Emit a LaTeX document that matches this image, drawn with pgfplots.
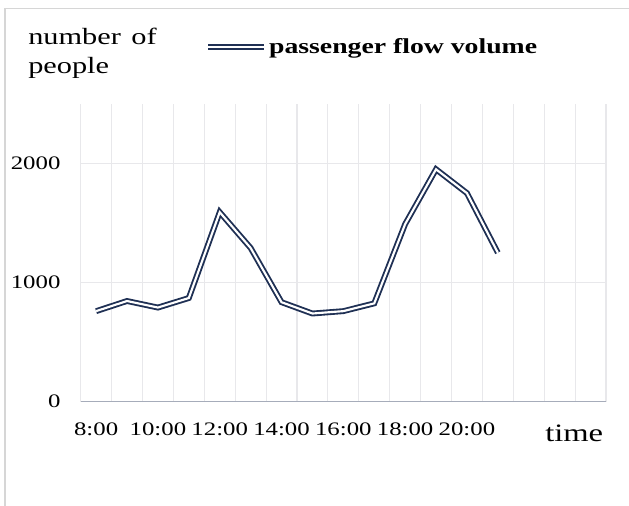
\documentclass[border=0pt]{standalone}
\usepackage{fontspec}
\setmainfont{Liberation Serif}[FakeStretch=1.3]
\usepackage{pgfplots}
\pgfplotsset{compat=1.18}

\definecolor{flow}{RGB}{31,48,84}
\definecolor{gridgray}{RGB}{232,232,235}
\definecolor{axisgray}{RGB}{166,172,186}
\definecolor{bordergray}{RGB}{214,214,214}

\begin{document}
\begin{tikzpicture}
    \useasboundingbox (0,0) rectangle (471.75pt,379.5pt);
    % frame of the chart area (only left and top edges show)
    \draw[bordergray, line width=0.9pt] (3.75pt,0pt) -- (3.75pt,373.3pt) -- (471.75pt,373.3pt);

    \begin{axis}[
        at={(60.5pt,78.2pt)}, anchor=south west,
        scale only axis,
        width=394pt, height=223.5pt,
        xmin=0.5, xmax=17.5,
        ymin=0, ymax=2500,
        axis x line*=bottom, axis y line*=left,
        y axis line style={draw=none},
        x axis line style={-, draw=axisgray, line width=0.9pt},
        xtick={1,3,5,7,9,11,13},
        xticklabels={8:00,10:00,12:00,14:00,16:00,18:00,20:00},
        minor xtick={0.5,1.5,...,17.5},
        xminorgrids,
        ytick={0,1000,2000},
        yticklabels={0,1000,2000},
        ymajorgrids,
        grid style={draw=gridgray, line width=0.8pt},
        minor grid style={draw=gridgray, line width=0.8pt},
        major tick length=0pt, minor tick length=0pt,
        tick style={draw=none},
        ticklabel style={font=\fontsize{14.3}{16}\selectfont},
        xticklabel style={anchor=north, inner sep=0pt, yshift=-15.5pt},
        yticklabel style={anchor=east, inner sep=0pt, xshift=-15pt},
        legend style={at={(0.2366,1.19)}, anchor=west, draw=none, fill=none,
            inner sep=0pt, font=\fontsize{16}{19}\selectfont\bfseries,
            nodes={inner sep=1.5pt}},
        legend image code/.code={\draw[#1] (0pt,0pt) -- (42pt,0pt);},
    ]
    \addplot[flow, line width=1.4pt, double=white, double distance=1.6pt] coordinates {
        (1,760)
        (2,845)
        (3,790)
        (4,870)
        (5,1590)
        (6,1290)
        (7,835)
        (8,740)
        (9,760)
        (10,825)
        (11,1490)
        (12,1950)
        (13,1750)
        (14,1250)
    };
    \addlegendentry{passenger flow volume}
    \end{axis}

    \node[anchor=base west, inner sep=0pt, font=\fontsize{17.5}{20}\selectfont]
        at (21pt,345.75pt) {number\hspace{0.45em}of};
    \node[anchor=base west, inner sep=0pt, font=\fontsize{17.5}{20}\selectfont]
        at (21pt,324pt) {people};
    \node[anchor=base west, inner sep=0pt, font=\fontsize{18.8}{21}\selectfont]
        at (408.75pt,48.2pt) {time};
\end{tikzpicture}
\end{document}
